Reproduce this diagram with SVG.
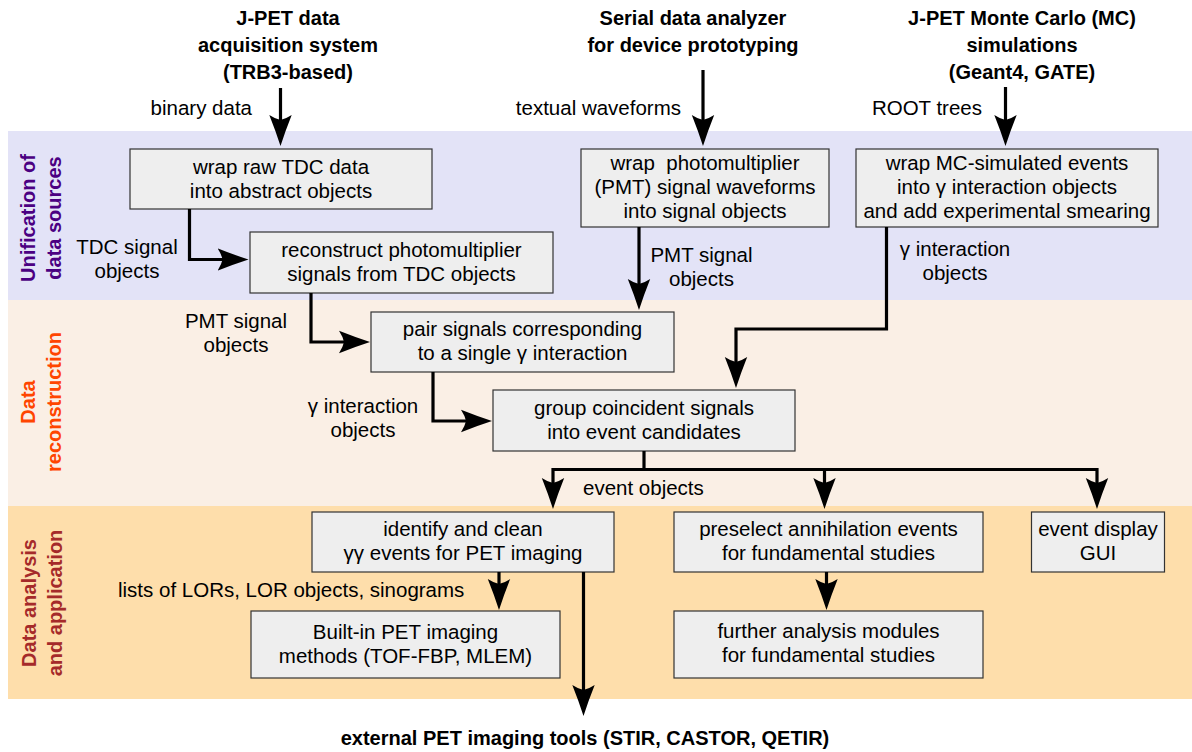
<svg xmlns="http://www.w3.org/2000/svg" width="1192" height="752" viewBox="0 0 1192 752">
<style>
text { font-family: "Liberation Sans", Arial, sans-serif; font-size: 20.5px; fill: #000; }
.t { text-anchor: middle; }
.b { font-weight: bold; font-size: 20px; }
.band { font-weight: bold; font-size: 20px; text-anchor: middle; }
.box { fill: #eeeeee; stroke: #333333; stroke-width: 1.2; }
.c { fill: none; stroke: #000; stroke-width: 3.2; stroke-linejoin: miter; marker-end: url(#ah); }
.cn { fill: none; stroke: #000; stroke-width: 3.2; stroke-linejoin: miter; }
</style>
<defs>
<marker id="ah" markerUnits="userSpaceOnUse" viewBox="0 -12 32 24" markerWidth="32" markerHeight="24" refX="23" refY="0" orient="auto-start-reverse">
<path d="M31,0 Q15.5,-5 0,-11.2 Q4,-5 5,0 Q4,5 0,11.2 Q15.5,5 31,0 Z" fill="#000"/>
</marker>
</defs>

<g id="bands">
<rect x="8" y="131" width="1184" height="169" fill="#e3e3f7"/>
<rect x="8" y="300" width="1184" height="206" fill="#faefe5"/>
<rect x="8" y="506" width="1184" height="193" fill="#fedeab"/>
<text class="band" style="fill:#4b0082" transform="translate(35,218) rotate(-90)">Unification of</text>
<text class="band" style="fill:#4b0082" transform="translate(61,218) rotate(-90)">data sources</text>
<text class="band" style="fill:#ff4500" transform="translate(35,402) rotate(-90)">Data</text>
<text class="band" style="fill:#ff4500" transform="translate(61,402) rotate(-90)">reconstruction</text>
<text class="band" style="fill:#a52a2a" transform="translate(36,603) rotate(-90)">Data analysis</text>
<text class="band" style="fill:#a52a2a" transform="translate(62,603) rotate(-90)">and application</text>
</g>

<g id="src-daq">
<text class="t b" x="288" y="25">J-PET data</text>
<text class="t b" x="288" y="52">acquisition system</text>
<text class="t b" x="288" y="79">(TRB3-based)</text>
</g>
<g id="src-serial">
<text class="t b" x="693" y="25">Serial data analyzer</text>
<text class="t b" x="693" y="52">for device prototyping</text>
</g>
<g id="src-mc">
<text class="t b" x="1022" y="25">J-PET Monte Carlo (MC)</text>
<text class="t b" x="1022" y="52">simulations</text>
<text class="t b" x="1022" y="79">(Geant4, GATE)</text>
</g>

<g id="n-wrap-tdc">
<rect class="box" x="130" y="149" width="302" height="60"/>
<text class="t" x="281" y="174">wrap raw TDC data</text>
<text class="t" x="281" y="198">into abstract objects</text>
</g>
<g id="n-reco-pmt">
<rect class="box" x="250" y="232" width="303" height="61"/>
<text class="t" x="401.5" y="257">reconstruct photomultiplier</text>
<text class="t" x="401.5" y="281">signals from TDC objects</text>
</g>
<g id="n-wrap-pmt">
<rect class="box" x="581" y="149" width="248" height="78"/>
<text class="t" x="705" y="170" xml:space="preserve">wrap  photomultiplier</text>
<text class="t" x="705" y="194">(PMT) signal waveforms</text>
<text class="t" x="705" y="218">into signal objects</text>
</g>
<g id="n-wrap-mc">
<rect class="box" x="856" y="149" width="302" height="78"/>
<text class="t" x="1007" y="170">wrap MC-simulated events</text>
<text class="t" x="1007" y="194">into γ interaction objects</text>
<text class="t" x="1007" y="218">and add experimental smearing</text>
</g>
<g id="n-pair">
<rect class="box" x="371" y="312" width="303" height="60"/>
<text class="t" x="522.5" y="336">pair signals corresponding</text>
<text class="t" x="522.5" y="360">to a single γ interaction</text>
</g>
<g id="n-group">
<rect class="box" x="493" y="390" width="302" height="61"/>
<text class="t" x="644" y="415">group coincident signals</text>
<text class="t" x="644" y="439">into event candidates</text>
</g>
<g id="n-identify">
<rect class="box" x="312" y="512" width="302" height="60"/>
<text class="t" x="463" y="536">identify and clean</text>
<text class="t" x="463" y="560">γγ events for PET imaging</text>
</g>
<g id="n-preselect">
<rect class="box" x="674" y="512" width="309" height="60"/>
<text class="t" x="828.5" y="536">preselect annihilation events</text>
<text class="t" x="828.5" y="560">for fundamental studies</text>
</g>
<g id="n-display">
<rect class="box" x="1031.5" y="512" width="133" height="60"/>
<text class="t" x="1098" y="536">event display</text>
<text class="t" x="1098" y="560">GUI</text>
</g>
<g id="n-builtin">
<rect class="box" x="251" y="611" width="309" height="67"/>
<text class="t" x="405.5" y="639">Built-in PET imaging</text>
<text class="t" x="405.5" y="663">methods (TOF-FBP, MLEM)</text>
</g>
<g id="n-further">
<rect class="box" x="674" y="611" width="309" height="67"/>
<text class="t" x="828.5" y="638">further analysis modules</text>
<text class="t" x="828.5" y="662">for fundamental studies</text>
</g>
<g id="n-external">
<text class="t b" x="585" y="745">external PET imaging tools (STIR, CASTOR, QETIR)</text>
</g>

<g id="connectors">
<path class="c" d="M280.5,88 V138"/>
<path class="c" d="M703,70 V138"/>
<path class="c" d="M1005.5,87 V138"/>
<path class="c" d="M189.5,209 V259.5 H240.5"/>
<path class="c" d="M639,227 V302"/>
<path class="c" d="M311,293 V342 H362"/>
<path class="c" d="M886.5,227 V329 H736 V380"/>
<path class="c" d="M433,372 V421 H484"/>
<path class="cn" d="M644,451 V469.5"/>
<path class="c" style="marker-start:url(#ah)" d="M553,501 V469.5 H1097 V501"/>
<path class="c" d="M824.5,469.5 V501"/>
<path class="c" d="M499,572 V602"/>
<path class="c" d="M583.5,572 V708"/>
<path class="c" d="M826.5,572 V602"/>
<text x="252" y="115" text-anchor="end">binary data</text>
<text x="681" y="115" text-anchor="end">textual waveforms</text>
<text x="982" y="115" text-anchor="end">ROOT trees</text>
<text class="t" x="127" y="254">TDC signal</text>
<text class="t" x="127" y="278">objects</text>
<text class="t" x="701.5" y="262">PMT signal</text>
<text class="t" x="701.5" y="286">objects</text>
<text class="t" x="955" y="256">γ interaction</text>
<text class="t" x="955" y="280">objects</text>
<text class="t" x="236" y="328">PMT signal</text>
<text class="t" x="236" y="352">objects</text>
<text class="t" x="363" y="413">γ interaction</text>
<text class="t" x="363" y="437">objects</text>
<text x="583" y="495">event objects</text>
<text x="118" y="597">lists of LORs, LOR objects, sinograms</text>
</g>
</svg>
